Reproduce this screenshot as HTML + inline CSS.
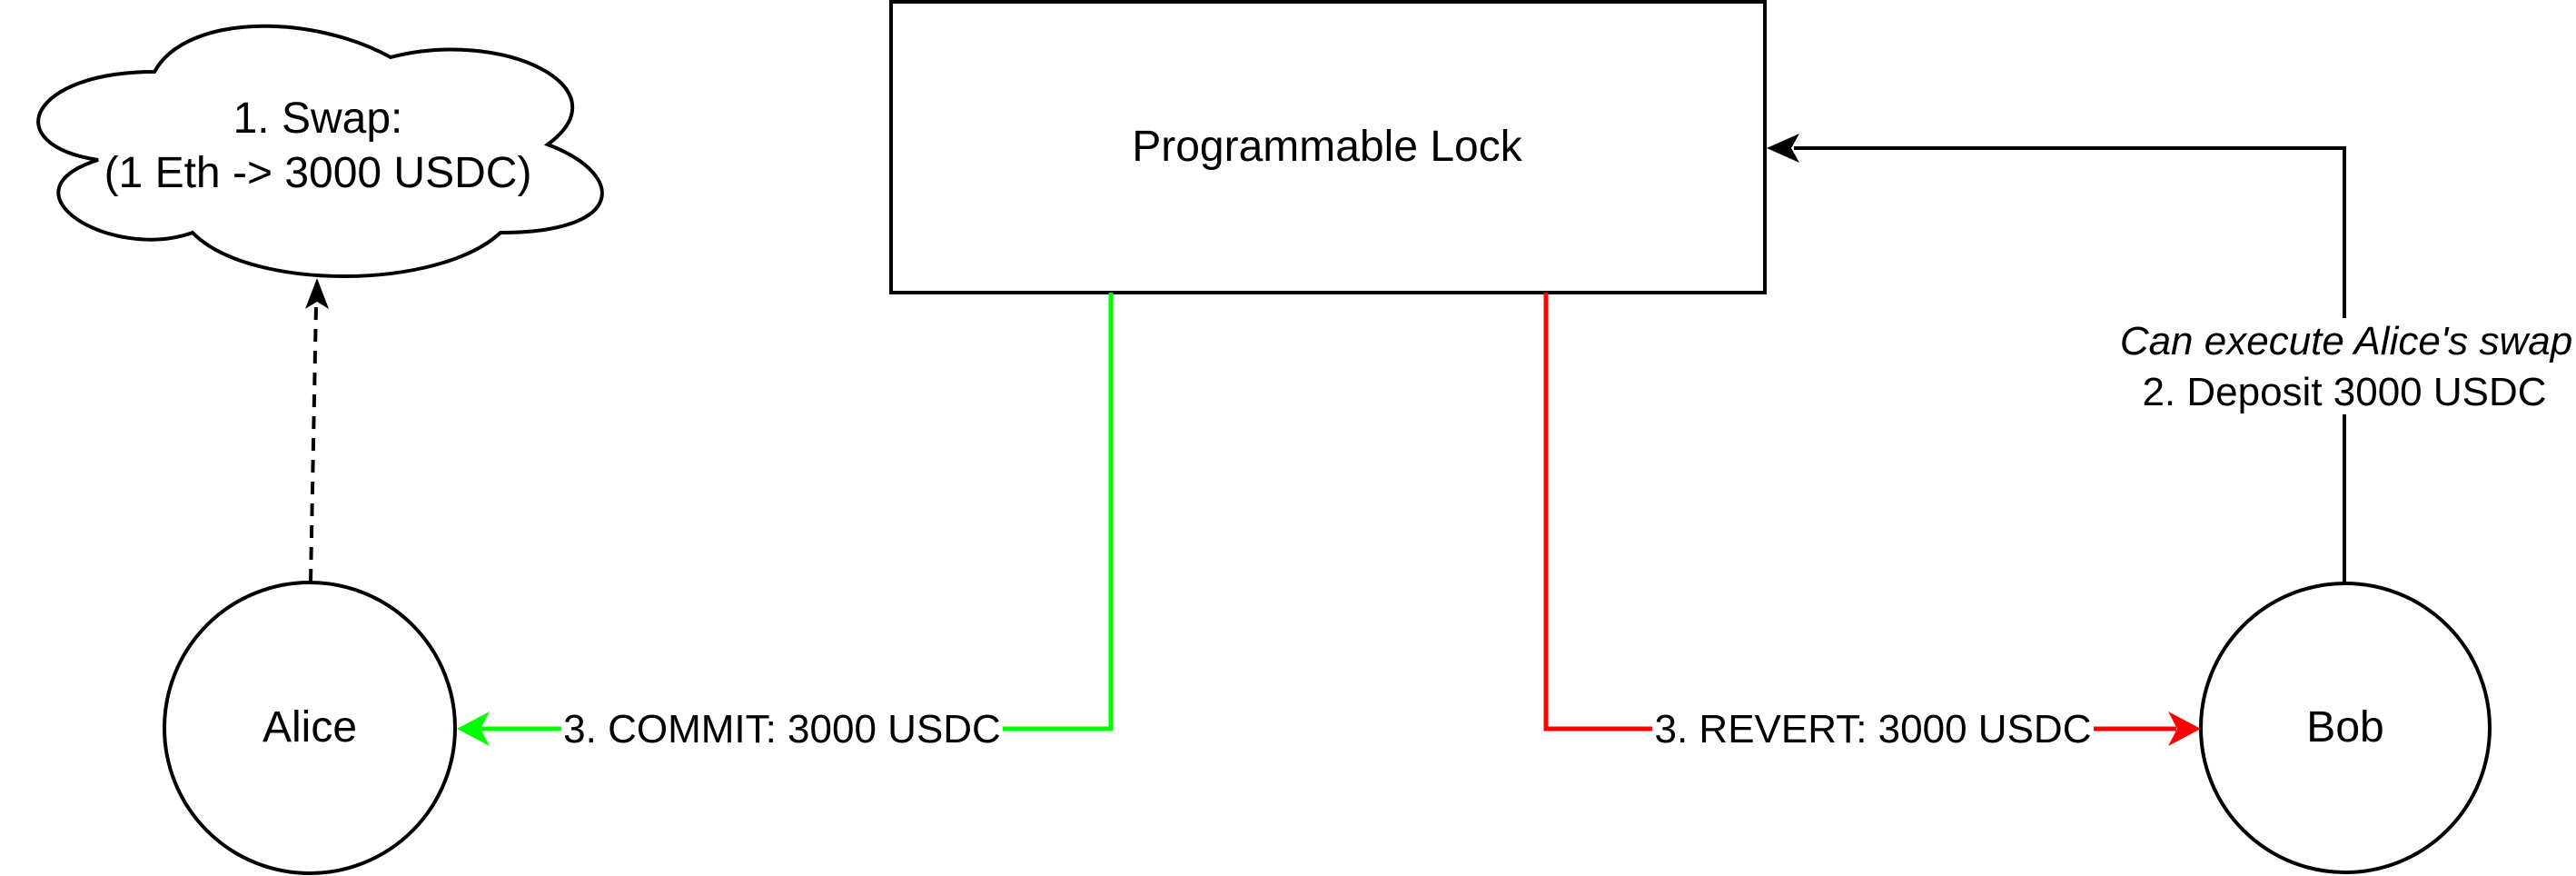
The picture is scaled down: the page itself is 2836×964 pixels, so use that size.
<!DOCTYPE html>
<html><head><meta charset="utf-8"><style>
html,body{margin:0;padding:0;background:#fff;}
svg{display:block;}
text{font-family:"Liberation Sans",Arial,sans-serif;font-size:48px;fill:#000;}
.e{font-size:44px;}
</style></head><body>
<svg width="2836" height="964" viewBox="0 0 2836 964" xmlns="http://www.w3.org/2000/svg">
<!-- cloud -->
<g transform="translate(-3,-1)">
<path d="M173 80 C35 80 0 160 111 177 C0 212 125 289 215 257 C277 321 485 321 554 257 C693 257 693 193 606 160 C693 96 554 32 433 64 C346 16 208 16 173 80 Z" fill="#fff" stroke="#000" stroke-width="4"/>
</g>
<text x="350" y="146" text-anchor="middle">1. Swap:</text>
<text x="350" y="206" text-anchor="middle">(1 Eth -&gt; 3000 USDC)</text>
<!-- rect -->
<rect x="981" y="2" width="962" height="320" fill="#fff" stroke="#000" stroke-width="4"/>
<text x="1461" y="177" text-anchor="middle">Programmable Lock</text>
<!-- circles -->
<circle cx="341" cy="801" r="160" fill="#fff" stroke="#000" stroke-width="4"/>
<text x="341" y="816" text-anchor="middle">Alice</text>
<circle cx="2582" cy="801" r="159" fill="#fff" stroke="#000" stroke-width="4"/>
<text x="2582" y="816" text-anchor="middle">Bob</text>
<!-- dashed -->
<line x1="342" y1="640" x2="348" y2="335" stroke="#000" stroke-width="4" stroke-dasharray="14,10"/>
<polygon points="349,306 362,340 349,332 336,340" fill="#000"/>
<!-- black arrow -->
<polyline points="2581,641 2581,163 1975,163" fill="none" stroke="#000" stroke-width="4"/>
<polygon points="1945,163 1981,147 1972,163 1981,179" fill="#000"/>
<rect x="2330" y="350" width="506" height="106" fill="#fff"/>
<text class="e" x="2583" y="390" text-anchor="middle" font-style="italic">Can execute Alice's swap</text>
<text class="e" x="2581" y="446" text-anchor="middle">2. Deposit 3000 USDC</text>
<!-- green -->
<polyline points="1223,322 1223,802 530,802" fill="none" stroke="#00ff00" stroke-width="5"/>
<polygon points="503,802 539,783 529,802 539,821" fill="#00ff00"/>
<rect x="618" y="775" width="486" height="55" fill="#fff"/>
<text class="e" x="861" y="817" text-anchor="middle">3. COMMIT: 3000 USDC</text>
<!-- red -->
<polyline points="1702,322 1702,802 2396,802" fill="none" stroke="#ff0000" stroke-width="5"/>
<polygon points="2423,802 2387,783 2397,802 2387,821" fill="#ff0000"/>
<rect x="1819" y="775" width="486" height="55" fill="#fff"/>
<text class="e" x="2062" y="817" text-anchor="middle">3. REVERT: 3000 USDC</text>
</svg>
</body></html>
